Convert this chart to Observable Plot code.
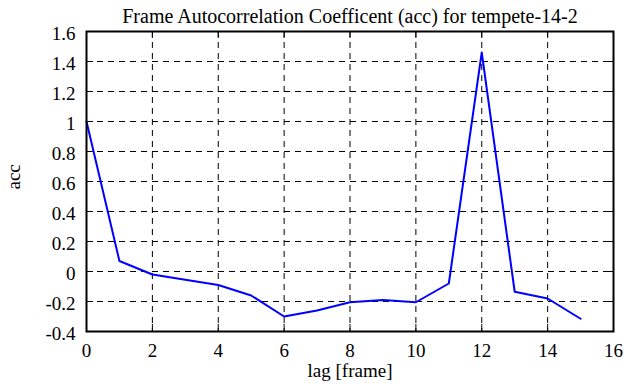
<!DOCTYPE html>
<html>
<head>
<meta charset="utf-8">
<script src="https://cdn.jsdelivr.net/npm/d3@7"></script>
<script src="https://cdn.jsdelivr.net/npm/@observablehq/plot@0.6"></script>
<style>
  html, body { margin: 0; padding: 0; background: #fff; }
  #chart svg { display: block; }
  #chart svg text { font-family: "Liberation Serif", serif !important; font-variant: normal !important; }
</style>
</head>
<body>
<div id="chart"></div>
<script>
const title = "Frame Autocorrelation Coefficent (acc) for tempete-14-2";
const xLabel = "lag [frame]";
const yLabel = "acc";
const lags = [0, 1, 2, 3, 4, 5, 6, 7, 8, 9, 10, 11, 12, 13, 14, 15];
const acc = [1.0, 0.07, -0.02, -0.055, -0.09, -0.16, -0.30, -0.26, -0.205, -0.19, -0.205, -0.08, 1.46, -0.135, -0.18, -0.315];
const xTicks = [0, 2, 4, 6, 8, 10, 12, 14, 16];
const yTicks = [-0.4, -0.2, 0, 0.2, 0.4, 0.6, 0.8, 1, 1.2, 1.4, 1.6];

const data = lags.map((l, i) => ({lag: l, acc: acc[i]}));

const W = 635, H = 387;
const mL = 86, mR = 22, mT = 31, mB = 56;
const plotW = W - mL - mR, plotH = H - mT - mB;
const tickLen = 7;
const font = "Liberation Serif";

const chart = Plot.plot({
  width: W,
  height: H,
  marginLeft: mL,
  marginRight: mR,
  marginTop: mT,
  marginBottom: mB,
  style: {fontFamily: font, fontSize: "19px", background: "#fff", color: "#000"},
  x: {domain: [0, 16], ticks: xTicks},
  y: {domain: [-0.4, 1.6], ticks: yTicks},
  marks: [
    Plot.gridX(xTicks, {stroke: "#000", strokeOpacity: 1, strokeWidth: 1, strokeDasharray: "6,5"}),
    Plot.gridY(yTicks, {stroke: "#000", strokeOpacity: 1, strokeWidth: 1, strokeDasharray: "6,5"}),
    // inward ticks on all four sides
    Plot.tickX(xTicks, {x: d => d, stroke: "#000", strokeWidth: 1, insetTop: plotH - tickLen}),
    Plot.tickX(xTicks, {x: d => d, stroke: "#000", strokeWidth: 1, insetBottom: plotH - tickLen}),
    Plot.tickY(yTicks, {y: d => d, stroke: "#000", strokeWidth: 1, insetRight: plotW - tickLen}),
    Plot.tickY(yTicks, {y: d => d, stroke: "#000", strokeWidth: 1, insetLeft: plotW - tickLen}),
    Plot.axisX(xTicks, {tickSize: 0, tickPadding: 12, label: null, fontSize: 19, fontFamily: font, fontVariant: "normal", fill: "#000"}),
    Plot.axisY(yTicks, {tickSize: 0, tickPadding: 11, label: null, fontSize: 19, fontFamily: font, fontVariant: "normal", fill: "#000", dy: 2.5,
      tickFormat: d => (Math.abs(d) < 1e-9 ? "0" : String(+d.toFixed(1)))}),
    Plot.line(data, {x: "lag", y: "acc", stroke: "#0000ff", strokeWidth: 2}),
    Plot.frame({stroke: "#000", strokeWidth: 2}),
    Plot.text([title], {frameAnchor: "top", dy: -22.5, fontSize: 20, fontFamily: font, fill: "#000"}),
    Plot.text([xLabel], {frameAnchor: "bottom", dy: 45, fontSize: 19, fontFamily: font, fill: "#000"}),
    Plot.text([yLabel], {frameAnchor: "left", dx: -72.5, dy: 8, rotate: -90, fontSize: 19, fontFamily: font, fill: "#000"})
  ]
});
document.getElementById("chart").appendChild(chart);
</script>
</body>
</html>
